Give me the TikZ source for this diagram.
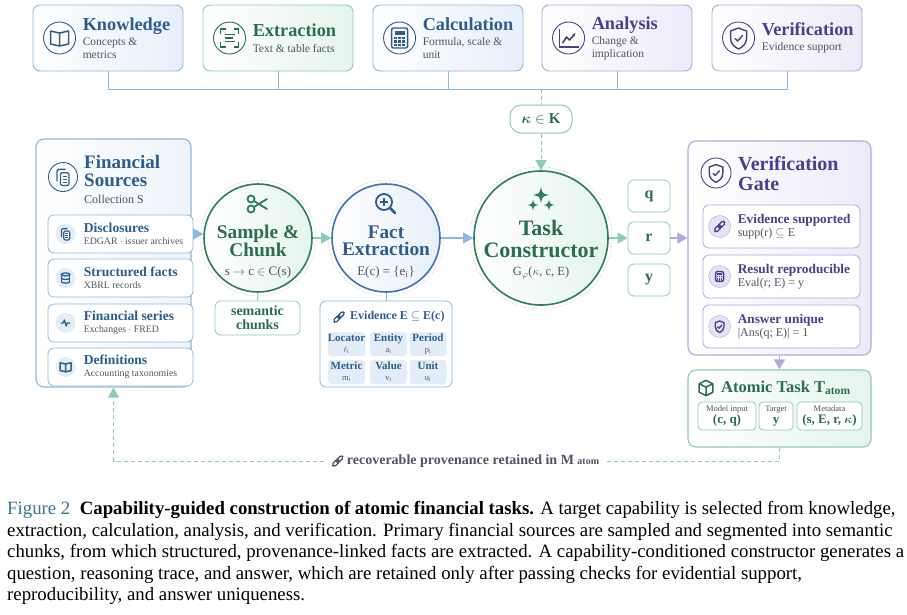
\documentclass[tikz,border=0pt]{standalone}
\usepackage{fontspec}
\setmainfont{Liberation Serif}
\usepackage{bm}
\usetikzlibrary{arrows.meta,positioning,calc}

\definecolor{bline}{HTML}{8DB9DF}
\definecolor{btext}{HTML}{2C5D8F}
\definecolor{bfill}{HTML}{E6EFF9}
\definecolor{bsoft}{HTML}{E3EDF8}
\definecolor{bdark}{HTML}{3F72B5}
\definecolor{gline}{HTML}{8CCCB6}
\definecolor{gtext}{HTML}{2A6E52}
\definecolor{gfill}{HTML}{E5F4ED}
\definecolor{gdark}{HTML}{2E7D5E}
\definecolor{pline}{HTML}{B5A7DD}
\definecolor{ptext}{HTML}{4A3F8E}
\definecolor{pfill}{HTML}{EEEAF8}
\definecolor{psoft}{HTML}{E7E2F6}
\definecolor{subtext}{HTML}{4F5561}
\definecolor{halo}{HTML}{B5C4C0}
\definecolor{capteal}{HTML}{2F7C8C}

\newcommand\capttl{\fontsize{18.3}{20}\selectfont\bfseries}
\newcommand\srcttl{\fontsize{13.6}{15}\selectfont\bfseries}

\tikzset{
  capbox/.style={rounded corners=7pt, minimum width=150pt, minimum height=66pt, line width=0.9pt, inner sep=0pt},
  bcap/.style={capbox, draw=bline, left color=white, right color=bfill},
  gcap/.style={capbox, draw=gline, left color=white, right color=gfill},
  pcap/.style={capbox, draw=pline, left color=white, right color=pfill},
  ring/.style={circle, line width=0.9pt, minimum size=32pt, inner sep=0pt, fill=white},
  softdot/.style={circle, minimum size=20pt, inner sep=0pt},
  captxt/.style={anchor=west, align=left, inner sep=0pt, text=subtext, font=\fontsize{11.5}{12.5}\selectfont},
  bus/.style={draw=bline, line width=0.9pt},
  gdash/.style={draw=gline, dash pattern=on 4pt off 3pt, line width=1pt},
  tip/.style={-{Triangle[length=10pt,width=11pt]}},
  panel/.style={rounded corners=8pt, line width=1.1pt, inner sep=0pt},
  itembox/.style={rounded corners=6pt, line width=0.8pt, fill=white, inner sep=0pt},
  stagecirc/.style={circle, line width=1.6pt, left color=white, inner sep=0pt},
  halocirc/.style={circle, draw=halo, dotted, line width=0.7pt, inner sep=0pt},
  cell/.style={rounded corners=3pt, fill=bsoft, minimum width=37pt, minimum height=24pt, inner sep=0pt, align=center, text=btext},
  pics/book/.style={code={
    \draw[line width=1.5pt, line join=round] (0,-5) -- (-9,-7) -- (-9,6) -- (0,8) -- (9,6) -- (9,-7) -- cycle (0,-5) -- (0,8);}},
  pics/scan/.style={code={
    \draw[line width=1.5pt] (-9,-4) -- (-9,-9) -- (-4,-9) (4,-9) -- (9,-9) -- (9,-4) (9,4) -- (9,9) -- (4,9) (-4,9) -- (-9,9) -- (-9,4);
    \draw[line width=1.8pt] (-5,-3.5) -- (5,-3.5) (-5,0) -- (3,0) (-5,3.5) -- (5,3.5);}},
  pics/calcicon/.style={code={
    \draw[line width=1.4pt, rounded corners=2pt] (-8,-10) rectangle (8,10);
    \fill (-5,-7) rectangle (5,-3);
    \foreach \u in {-4,0,4} \foreach \v in {0,3.5,7} \fill ({\u-1.2},{\v-1.2}) rectangle ({\u+1.2},{\v+1.2});}},
  pics/chart/.style={code={
    \draw[line width=1.6pt] (-9,-9) -- (-9,9) -- (10,9);
    \draw[line width=1.6pt, line join=round, -{Stealth[length=4pt]}] (-6,5) -- (-2,-1) -- (1,2) -- (7,-5);}},
  pics/shield/.style={code={
    \draw[line width=1.4pt, line join=round] (0,-10) -- (8,-7) -- (8,0) .. controls (8,6) and (4,9) .. (0,11) .. controls (-4,9) and (-8,6) .. (-8,0) -- (-8,-7) -- cycle;
    \draw[line width=1.4pt, line join=round, line cap=round] (-3.5,0.5) -- (-1,3) -- (4,-2.5);}},
  pics/docs/.style={code={
    \draw[line width=1.3pt, rounded corners=1.5pt] (-7,5) -- (-7,-9) -- (3,-9);
    \draw[line width=1.3pt, rounded corners=1.5pt, fill=white] (-3,-5) rectangle (7,10);
    \draw[line width=1.1pt] (-0.5,-1) -- (4.5,-1) (-0.5,2.5) -- (4.5,2.5) (-0.5,6) -- (4.5,6);}},
  pics/db/.style={code={
    \draw[line width=1.3pt] (0,-6) ellipse (7 and 2.5);
    \draw[line width=1.3pt] (-7,-6) -- (-7,6) (7,-6) -- (7,6);
    \draw[line width=1.3pt] (-7,0) arc[start angle=180, end angle=0, x radius=7, y radius=2.5];
    \draw[line width=1.3pt] (-7,6) arc[start angle=180, end angle=0, x radius=7, y radius=2.5];}},
  pics/pulse/.style={code={
    \draw[line width=1.3pt, line join=round] (-8,0) -- (-4,0) -- (-2,-5) -- (1,5) -- (3,0) -- (8,0);}},
  pics/scissors/.style={code={
    \draw[line width=1.8pt] (-7,-5) circle (3.5) (-7,5) circle (3.5);
    \draw[line width=1.8pt, line cap=round] (-4,-3) -- (9,5) (-4,3) -- (9,-5);}},
  pics/zoomplus/.style={code={
    \draw[line width=1.8pt] (-2,-2) circle (8);
    \draw[line width=2.6pt, line cap=round] (4,4) -- (9,9);
    \draw[line width=1.8pt] (-6,-2) -- (2,-2) (-2,-6) -- (-2,2);}},
  pics/sparkle/.style={code={
    \foreach \cx/\cy/\s in {0/-5/8, -8/5/5.5, 8/5/5.5}
      \fill ({\cx},{\cy-\s}) .. controls ({\cx+0.18*\s},{\cy-0.18*\s}) .. ({\cx+\s},{\cy}) .. controls ({\cx+0.18*\s},{\cy+0.18*\s}) .. ({\cx},{\cy+\s}) .. controls ({\cx-0.18*\s},{\cy+0.18*\s}) .. ({\cx-\s},{\cy}) .. controls ({\cx-0.18*\s},{\cy-0.18*\s}) .. cycle;}},
  pics/link/.style={code={
    \draw[line width=1.2pt, rounded corners=1.8pt, rotate=45] (-11,-3) -- (2,-3) -- (2,3) -- (-11,3) -- cycle (-2,-3) -- (11,-3) -- (11,3) -- (-2,3) -- cycle;}},
  pics/cube/.style={code={
    \draw[line width=1.5pt, line join=round] (0,-9) -- (8,-5) -- (8,5) -- (0,9) -- (-8,5) -- (-8,-5) -- cycle (-8,-5) -- (0,-1) -- (8,-5) (0,-1) -- (0,9);}}
}

\begin{document}
\begin{tikzpicture}[x=1pt, y=-1pt]
\useasboundingbox[fill=white] (0,0) rectangle (907,614);

% capability row
\node[bcap] (know) at (108,38) {};
\node[gcap] (extr) at (278,38) {};
\node[bcap] (calc) at (448,38) {};
\node[pcap] (anal) at (617,38) {};
\node[pcap] (veri) at (787,38) {};

\node[ring, draw=btext] (know-i) at ([xshift=27pt]know.west) {};
\pic[btext] at (know-i) {book};
\node[captxt] (know-t) at ([xshift=50pt]know.west) {{\capttl\color{btext}Knowledge}\\[3pt]Concepts \&\\metrics};

\node[ring, draw=gtext] (extr-i) at ([xshift=27pt]extr.west) {};
\pic[gtext] at (extr-i) {scan};
\node[captxt] (extr-t) at ([xshift=50pt]extr.west) {{\capttl\color{gtext}Extraction}\\[3pt]Text \& table facts};

\node[ring, draw=btext] (calc-i) at ([xshift=27pt]calc.west) {};
\pic[btext] at (calc-i) {calcicon};
\node[captxt] (calc-t) at ([xshift=50pt]calc.west) {{\capttl\color{btext}Calculation}\\[3pt]Formula, scale \&\\unit};

\node[ring, draw=ptext] (anal-i) at ([xshift=27pt]anal.west) {};
\pic[ptext] at (anal-i) {chart};
\node[captxt] (anal-t) at ([xshift=50pt]anal.west) {{\capttl\color{ptext}Analysis}\\[3pt]Change \&\\implication};

\node[ring, draw=ptext] (veri-i) at ([xshift=27pt]veri.west) {};
\pic[ptext] at (veri-i) {shield};
\node[captxt] (veri-t) at ([xshift=50pt]veri.west) {{\capttl\color{ptext}Verification}\\[3pt]Evidence support};

% bus and capability choice
\coordinate (bus-k) at (541,89);
\draw[bus] (know.south) |- (veri.south |- bus-k) -- (veri.south);
\draw[bus] (extr.south) -- (extr.south |- bus-k);
\draw[bus] (calc.south) -- (calc.south |- bus-k);
\draw[bus] (anal.south) -- (anal.south |- bus-k);

\node[rounded corners=11pt, draw=gline, line width=1pt, fill=white, minimum width=62pt, minimum height=28pt, text=gtext, font=\fontsize{15}{16}\selectfont\bfseries] (kappa) at (541,119) {$\bm{\kappa}\in\mathbf{K}$};
\draw[gdash] (bus-k) -- (kappa.north);

% sources
\node[panel, draw=bline, left color=white, right color=bfill!70, minimum width=155pt, minimum height=248pt] (src) at (113.5,263) {};
\node[ring, draw=btext, minimum size=29pt] (src-i) at (63,177) {};
\pic[btext, scale=0.85] at (src-i) {docs};
\node[captxt, font=\fontsize{12}{18}\selectfont] (src-t) at (84,179) {{\fontsize{19}{18}\selectfont\bfseries\color{btext}Financial}\\{\fontsize{19}{18}\selectfont\bfseries\color{btext}Sources}\\[-1pt]Collection S};

\node[itembox, draw=bline, minimum width=145pt, minimum height=38pt] (disc) at (120.5,234) {};
\node[itembox, draw=bline, minimum width=145pt, minimum height=38pt] (facts) at (120.5,278) {};
\node[itembox, draw=bline, minimum width=145pt, minimum height=38pt] (series) at (120.5,323) {};
\node[itembox, draw=bline, minimum width=145pt, minimum height=38pt] (defs) at (120.5,367) {};

\node[softdot, fill=bsoft] (disc-i) at ([xshift=18pt]disc.west) {};
\pic[btext, scale=0.6] at (disc-i) {docs};
\node[captxt, font=\fontsize{9.8}{11.5}\selectfont] (disc-t) at ([xshift=36pt]disc.west) {{\srcttl\color{btext}Disclosures}\\EDGAR $\cdot$ issuer archives};
\node[softdot, fill=bsoft] (facts-i) at ([xshift=18pt]facts.west) {};
\pic[btext, scale=0.6] at (facts-i) {db};
\node[captxt, font=\fontsize{9.8}{11.5}\selectfont] (facts-t) at ([xshift=36pt]facts.west) {{\srcttl\color{btext}Structured facts}\\XBRL records};
\node[softdot, fill=bsoft] (series-i) at ([xshift=18pt]series.west) {};
\pic[btext, scale=0.6] at (series-i) {pulse};
\node[captxt, font=\fontsize{9.8}{11.5}\selectfont] (series-t) at ([xshift=36pt]series.west) {{\srcttl\color{btext}Financial series}\\Exchanges $\cdot$ FRED};
\node[softdot, fill=bsoft] (defs-i) at ([xshift=18pt]defs.west) {};
\pic[btext, scale=0.6] at (defs-i) {book};
\node[captxt, font=\fontsize{9.8}{11.5}\selectfont] (defs-t) at ([xshift=36pt]defs.west) {{\srcttl\color{btext}Definitions}\\Accounting taxonomies};

% pipeline stages
\node[halocirc, minimum size=116pt] (samp-h) at (258,238) {};
\node[stagecirc, draw=gdark, right color=gfill, minimum size=108pt] (samp) at (258,238) {};
\pic[gdark] at (258,204) {scissors};
\node[align=center, text=gtext, font=\fontsize{19.4}{17.5}\selectfont\bfseries] (samp-t) at (258,241) {Sample \&\\Chunk};
\node[text=subtext, font=\fontsize{13}{14}\selectfont] (samp-f) at (258,272) {s $\rightarrow$ c $\in$ C(s)};

\node[halocirc, minimum size=116pt] (fact-h) at (386,238) {};
\node[stagecirc, draw=bdark, right color=bfill, minimum size=108pt] (fact) at (386,238) {};
\pic[btext] at (386,204) {zoomplus};
\node[align=center, text=btext, font=\fontsize{19.3}{17.5}\selectfont\bfseries] (fact-t) at (386,241) {Fact\\Extraction};
\node[text=subtext, font=\fontsize{13}{14}\selectfont] (fact-f) at (386,272) {E(c) = \{e\textsubscript{i}\}};

\node[halocirc, minimum size=142pt] (task-h) at (541,238) {};
\node[stagecirc, draw=gdark, right color=gfill, minimum size=134pt] (task) at (541,238) {};
\pic[gdark] at (541,200) {sparkle};
\node[align=center, text=gtext, font=\fontsize{22}{22}\selectfont\bfseries] (task-t) at (541,239) {Task\\Constructor};
\node[text=subtext, font=\fontsize{12.5}{14}\selectfont] (task-f) at (541,273) {G\textsubscript{$\varphi$}($\kappa$, c, E)};

\draw[gdash, tip] (kappa.south) -- (task.north);

\draw[draw=bline, line width=1pt, tip] (disc.east) -- (disc.east -| samp.west);
\draw[draw=gline, line width=1.2pt, tip] (samp.east) -- (fact.west);
\draw[draw=bline, line width=1.2pt, tip] (fact.east) -- (task.west);

% chunks and evidence
\node[itembox, draw=gline, minimum width=85pt, minimum height=34pt, align=center, text=gtext, font=\fontsize{14}{14}\selectfont\bfseries] (chunks) at (257.5,318) {semantic\\chunks};
\draw[draw=gline, line width=1pt] (samp.south) -- (chunks.north);

\node[itembox, draw=bline, minimum width=132pt, minimum height=86pt] (evid) at (386,344) {};
\draw[draw=bline, line width=1pt] (fact.south) -- (evid.north);
\pic[btext, scale=0.6] at (339,317) {link};
\node[anchor=west, inner sep=0pt, text=btext, font=\fontsize{12}{13}\selectfont\bfseries] (evid-t) at (350,317) {Evidence E $\subseteq$ E(c)};
\node[cell] (cell-loc) at (346.5,344) {\fontsize{11}{11}\selectfont\bfseries Locator\\[-1pt]{\fontsize{8.5}{8}\selectfont\color{subtext}$\ell$\textsubscript{i}}};
\node[cell] (cell-ent) at (388.5,344) {\fontsize{11}{11}\selectfont\bfseries Entity\\[-1pt]{\fontsize{8.5}{8}\selectfont\color{subtext}a\textsubscript{i}}};
\node[cell] (cell-per) at (428,344) {\fontsize{11}{11}\selectfont\bfseries Period\\[-1pt]{\fontsize{8.5}{8}\selectfont\color{subtext}p\textsubscript{i}}};
\node[cell] (cell-met) at (346.5,372) {\fontsize{11}{11}\selectfont\bfseries Metric\\[-1pt]{\fontsize{8.5}{8}\selectfont\color{subtext}m\textsubscript{i}}};
\node[cell] (cell-val) at (388.5,372) {\fontsize{11}{11}\selectfont\bfseries Value\\[-1pt]{\fontsize{8.5}{8}\selectfont\color{subtext}v\textsubscript{i}}};
\node[cell] (cell-unit) at (428,372) {\fontsize{11}{11}\selectfont\bfseries Unit\\[-1pt]{\fontsize{8.5}{8}\selectfont\color{subtext}u\textsubscript{i}}};

% outputs
\node[itembox, draw=gline, minimum width=42pt, minimum height=32pt, text=gtext, font=\fontsize{16}{17}\selectfont\bfseries] (outq) at (649,196) {q};
\node[itembox, draw=gline, minimum width=42pt, minimum height=32pt, text=gtext, font=\fontsize{16}{17}\selectfont\bfseries] (outr) at (649,238) {r};
\node[itembox, draw=gline, minimum width=42pt, minimum height=32pt, text=gtext, font=\fontsize{16}{17}\selectfont\bfseries] (outy) at (649,280) {y};
\draw[draw=gline, line width=1.2pt, tip] (task.east) -- (outr.west);

% verification gate
\node[panel, draw=pline, left color=white, right color=pfill, minimum width=183pt, minimum height=214pt] (gate) at (779.5,248) {};
\draw[draw=pline, line width=1.2pt, tip] (outr.east) -- (outr.east -| gate.west);
\node[ring, draw=ptext, minimum size=30pt] (gate-i) at (716,173) {};
\pic[ptext, scale=0.85] at (gate-i) {shield};
\node[captxt, font=\fontsize{20}{20}\selectfont\bfseries, text=ptext] (gate-t) at (738,174) {Verification\\Gate};

\node[itembox, draw=pline, minimum width=157pt, minimum height=43pt] (chk-sup) at (781.5,226.5) {};
\node[itembox, draw=pline, minimum width=157pt, minimum height=43pt] (chk-rep) at (781.5,276.5) {};
\node[itembox, draw=pline, minimum width=157pt, minimum height=43pt] (chk-uni) at (781.5,326.5) {};

\node[softdot, fill=psoft, draw=pline, minimum size=22pt] (chk-sup-i) at ([xshift=17pt]chk-sup.west) {};
\pic[ptext, scale=0.6] at (chk-sup-i) {link};
\node[captxt, font=\fontsize{12}{13.5}\selectfont] (chk-sup-t) at ([xshift=35pt]chk-sup.west) {{\fontsize{13.3}{14}\selectfont\bfseries\color{ptext}Evidence supported}\\supp(r) $\subseteq$ E};
\node[softdot, fill=psoft, draw=pline, minimum size=22pt] (chk-rep-i) at ([xshift=17pt]chk-rep.west) {};
\pic[ptext, scale=0.5] at (chk-rep-i) {calcicon};
\node[captxt, font=\fontsize{12}{13.5}\selectfont] (chk-rep-t) at ([xshift=35pt]chk-rep.west) {{\fontsize{13.3}{14}\selectfont\bfseries\color{ptext}Result reproducible}\\Eval(r; E) = y};
\node[softdot, fill=psoft, draw=pline, minimum size=22pt] (chk-uni-i) at ([xshift=17pt]chk-uni.west) {};
\pic[ptext, scale=0.55] at (chk-uni-i) {shield};
\node[captxt, font=\fontsize{12}{13.5}\selectfont] (chk-uni-t) at ([xshift=35pt]chk-uni.west) {{\fontsize{13.3}{14}\selectfont\bfseries\color{ptext}Answer unique}\\|Ans(q; E)| = 1};

% atomic task
\node[panel, draw=gline, left color=white, right color=gfill, minimum width=183pt, minimum height=77pt] (atom) at (779.5,408.5) {};
\draw[draw=pline, line width=1.2pt, tip] (gate.south) -- (atom.north);
\pic[gtext, scale=0.85] at (706,388) {cube};
\node[anchor=west, inner sep=0pt, text=gtext, font=\fontsize{16.5}{17}\selectfont\bfseries] (atom-t) at (721,388) {Atomic Task T\textsubscript{atom}};
\node[itembox, rounded corners=4pt, draw=gline, minimum width=58pt, minimum height=28pt, align=center] (atom-in) at (727,416) {{\fontsize{8.5}{9}\selectfont\color{subtext}Model input}\\{\fontsize{13}{13}\selectfont\bfseries\color{gtext}(c, q)}};
\node[itembox, rounded corners=4pt, draw=gline, minimum width=34pt, minimum height=28pt, align=center] (atom-tgt) at (776,416) {{\fontsize{8.5}{9}\selectfont\color{subtext}Target}\\{\fontsize{13}{13}\selectfont\bfseries\color{gtext}y}};
\node[itembox, rounded corners=4pt, draw=gline, minimum width=65pt, minimum height=28pt, align=center] (atom-meta) at (829.5,416) {{\fontsize{8.5}{9}\selectfont\color{subtext}Metadata}\\{\fontsize{13}{13}\selectfont\bfseries\color{gtext}(s, E, r, $\bm{\kappa}$)}};

% provenance loop
\draw[gdash, tip] (atom.south) |- (src.south |- 0,461) -- (src.south);
\node[fill=white, inner xsep=6pt, text=subtext, font=\fontsize{14}{15}\selectfont\bfseries] (prov) at (465,461) {\hspace*{16pt}recoverable provenance retained in M {\fontsize{10}{11}\selectfont atom}};
\pic[subtext, scale=0.6] at ([xshift=13pt]prov.west) {link};

% caption
\node[anchor=north west, align=left, inner sep=0pt, font=\fontsize{18.8}{21.6}\selectfont] (cap) at (7,501) {{\color{capteal}Figure 2}\enspace\textbf{Capability-guided construction of atomic financial tasks.} A target capability is selected from knowledge,\\
extraction, calculation, analysis, and verification. Primary financial sources are sampled and segmented into semantic\\
chunks, from which structured, provenance-linked facts are extracted. A capability-conditioned constructor generates a\\
question, reasoning trace, and answer, which are retained only after passing checks for evidential support,\\
reproducibility, and answer uniqueness.};
\end{tikzpicture}
\end{document}
